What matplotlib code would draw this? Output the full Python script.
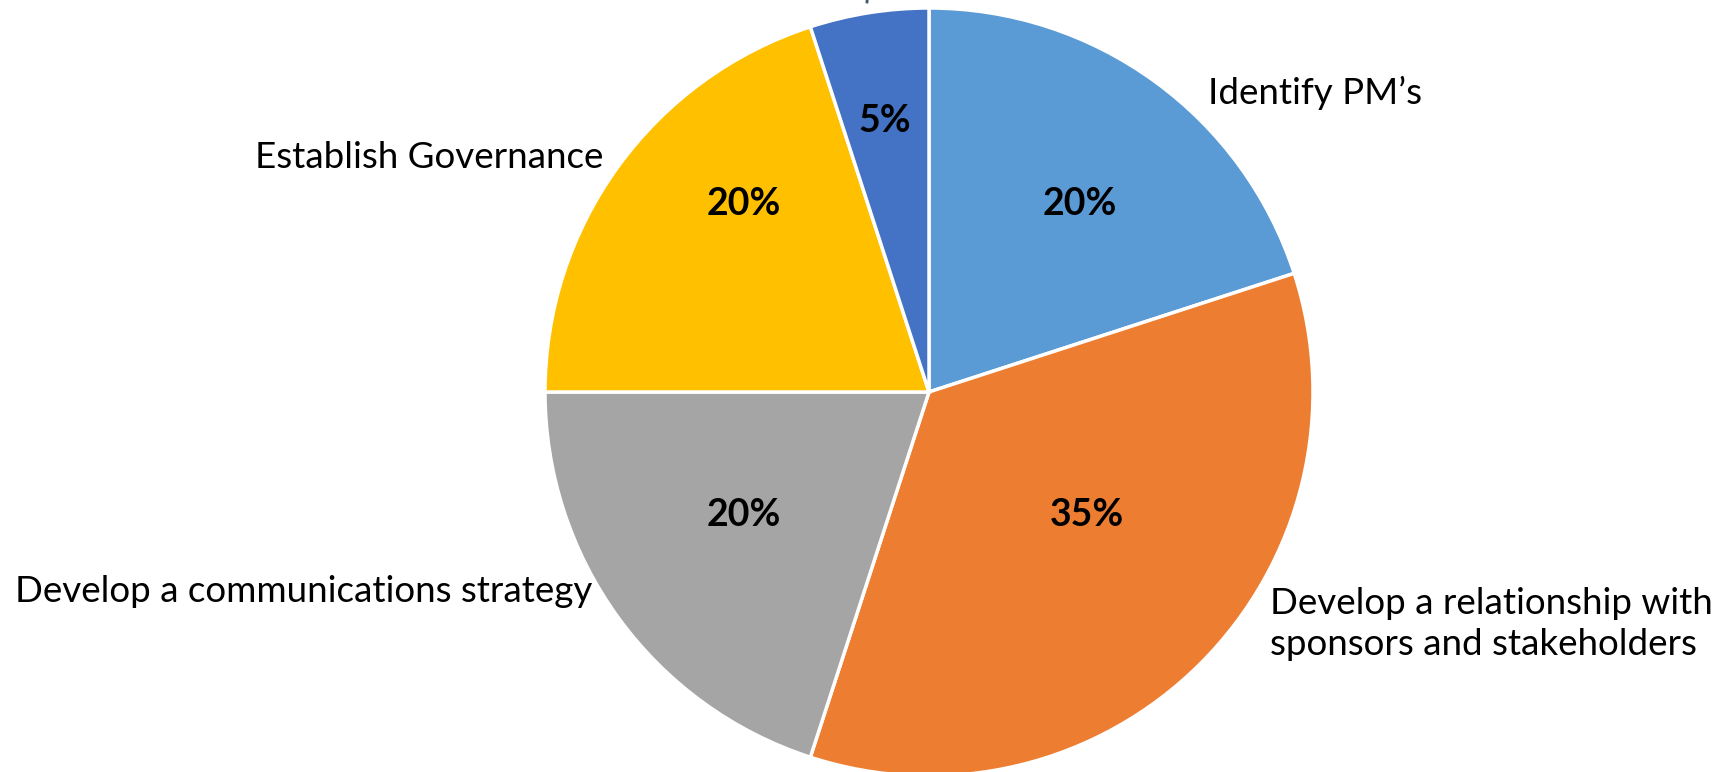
import matplotlib.pyplot as plt

labels = ["Identify PM\u2019s", "Develop a relationship with\nsponsors and stakeholders",
          "Develop a communications strategy", "Establish Governance", ""]
shares = [20, 35, 20, 20, 5]
colors = ["#5B9BD5", "#ED7D31", "#A5A5A5", "#FFC000", "#4472C4"]

# label spots in pixels (x, y from top)
pct_pos = [(1080, 204), (1087, 515), (744, 515), (744, 204), (885, 121)]
lab_pos = [(1208, 93, "left"), (1270, 624, "left"), (592, 592, "right"), (603, 157, "right")]

W, H = 1725, 772
fig = plt.figure(figsize=(W / 100, H / 100), dpi=100)
ax = fig.add_axes([0, 0, 1, 1])
ax.set_xlim(0, W)
ax.set_ylim(0, H)
ax.set_aspect("equal")
ax.axis("off")

cx, cy, r = 929, H - 392, 384
wedges, texts, autotexts = ax.pie(
    shares, colors=colors, startangle=90, counterclock=False,
    center=(cx, cy), radius=r, autopct="%d%%",
    wedgeprops=dict(edgecolor="white", linewidth=2.5),
    textprops=dict(fontsize=27, fontweight="bold", family="Lato"))
ax.set_xlim(0, W)
ax.set_ylim(0, H)

for t, (x, y) in zip(autotexts, pct_pos):
    t.set_position((x, H - y))
    t.set_ha("center")
    t.set_va("center")

for lab, (x, y, ha) in zip(labels, lab_pos):
    ax.text(x, H - y, lab, ha=ha, va="center", fontsize=26.5, family="Lato",
            linespacing=1.3)

# tip of the leader line for the small slice, its label sits above the canvas
ax.plot([868, 867], [H + 10, H - 2], color="#44546A", lw=2, clip_on=False)

fig.savefig("out.png", dpi=100)
